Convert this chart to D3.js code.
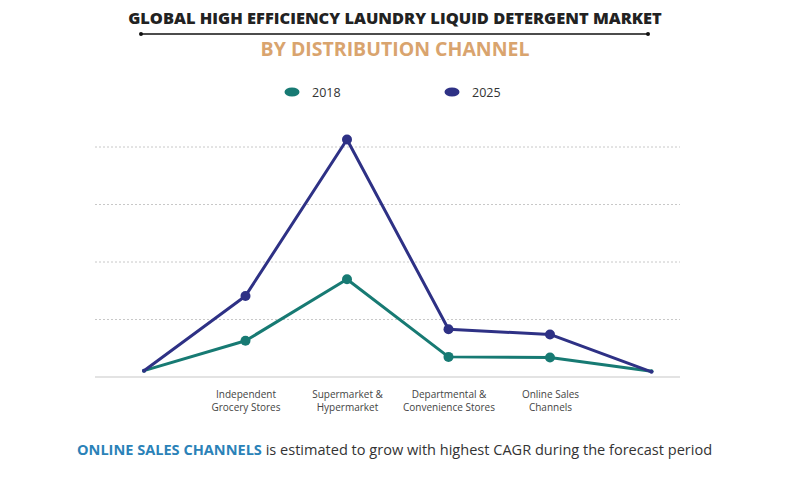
<!DOCTYPE html>
<html><head><meta charset="utf-8">
<script src="https://cdn.jsdelivr.net/npm/d3@7"></script>
<style>body{margin:0;background:#fff;} svg{display:block;}</style>
</head><body>
<svg id="c" width="790" height="485"></svg>
<script>
const categories = ["", "Independent\nGrocery Stores", "Supermarket &\nHypermarket", "Departmental &\nConvenience Stores", "Online Sales\nChannels", " "];
const values2018 = [1.1, 6.3, 17.0, 3.5, 3.4, 1.0];
const values2025 = [1.1, 14.1, 41.3, 8.3, 7.4, 0.9];
const seriesNames = ["2018", "2025"];
const yTicks = [10, 20, 30, 40];

const colors = {"2018": "#177a73", "2025": "#2e3185"};
const svg = d3.select("#c");

function fitText(sel, target) {
  const w = sel.node().getComputedTextLength();
  const fs = parseFloat(sel.attr("font-size"));
  sel.attr("font-size", fs * target / w);
}

// Title
const t1 = svg.append("text").attr("x", 395).attr("y", 24).attr("text-anchor", "middle")
  .attr("font-family", "Open Sans").attr("font-weight", 800).attr("font-size", 14)
  .attr("fill", "#222").text("GLOBAL HIGH EFFICIENCY LAUNDRY LIQUID DETERGENT MARKET");
fitText(t1, 534);
svg.append("line").attr("x1", 141).attr("x2", 648).attr("y1", 34).attr("y2", 34).attr("stroke", "#111").attr("stroke-width", 1.3);
svg.append("circle").attr("cx", 141).attr("cy", 34).attr("r", 2).attr("fill", "#111");
svg.append("circle").attr("cx", 648).attr("cy", 34).attr("r", 2).attr("fill", "#111");
const t2 = svg.append("text").attr("x", 395).attr("y", 56).attr("text-anchor", "middle")
  .attr("font-family", "Open Sans").attr("font-weight", 700).attr("font-size", 17)
  .attr("fill", "#d9a46e").text("BY DISTRIBUTION CHANNEL");
fitText(t2, 269);

// Legend
const legendX = {"2018": 292, "2025": 452};
seriesNames.forEach(s => {
  svg.append("ellipse").attr("cx", legendX[s]).attr("cy", 92).attr("rx", 7.5).attr("ry", 4.5).attr("fill", colors[s]);
  svg.append("text").attr("x", legendX[s] + 20).attr("y", 96.5).attr("font-family", "Open Sans")
    .attr("font-size", 12.5).attr("fill", "#333").text(s);
});

// Scales
const x = d3.scalePoint().domain(categories).range([144, 651.5]);
const y = d3.scaleLinear().domain([0, 40]).range([377, 147]);

// Grid
svg.append("g").selectAll("line").data(yTicks).join("line")
  .attr("x1", 95).attr("x2", 680).attr("y1", d => y(d)).attr("y2", d => y(d))
  .attr("stroke", "#c8c8c8").attr("stroke-width", 1).attr("stroke-dasharray", "2,2");

// X axis
const xAxis = svg.append("g").attr("transform", "translate(0,377)")
  .call(d3.axisBottom(x).tickSize(0).tickFormat(""));
xAxis.select(".domain").remove();
svg.append("line").attr("x1", 95).attr("x2", 680).attr("y1", 377).attr("y2", 377).attr("stroke", "#c8c8c8").attr("stroke-width", 1.2);
xAxis.selectAll(".tick").each(function(d) {
  const lines = d.trim() ? d.split("\n") : [];
  const t = d3.select(this).append("text").attr("fill", "#444").attr("font-family", "Open Sans")
    .attr("font-size", 10).attr("text-anchor", "middle");
  lines.forEach((ln, i) => t.append("tspan").attr("x", 0).attr("y", 21 + i * 13).text(ln));
});

// Lines
const data = {"2018": values2018, "2025": values2025};
const line = d3.line().x((d, i) => x(categories[i])).y(d => y(d));
seriesNames.forEach(s => {
  svg.append("path").datum(data[s]).attr("d", line).attr("fill", "none")
    .attr("stroke", colors[s]).attr("stroke-width", 3).attr("stroke-linejoin", "round");
  svg.append("g").selectAll("circle").data(data[s]).join("circle")
    .attr("cx", (d, i) => x(categories[i])).attr("cy", d => y(d))
    .attr("r", (d, i) => (i === 0 || i === categories.length - 1) ? 2 : 5)
    .attr("fill", colors[s]);
});

// Footer
const f = svg.append("text").attr("x", 77).attr("y", 455).attr("font-family", "Open Sans").attr("font-size", 14.5).attr("fill", "#333");
f.append("tspan").attr("font-weight", 700).attr("fill", "#2b82b8").text("ONLINE SALES CHANNELS");
f.append("tspan").text(" is estimated to grow with highest CAGR during the forecast period");
const fw = f.node().getComputedTextLength();
f.attr("font-size", 14.5 * 636 / fw);
</script>
</body></html>
